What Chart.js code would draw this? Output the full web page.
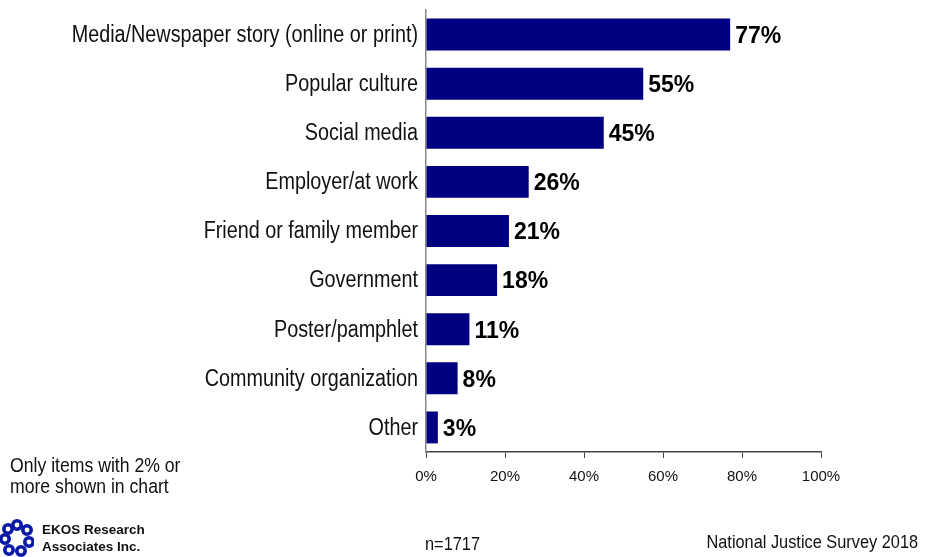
<!DOCTYPE html>
<html lang="en">
<head>
  <meta charset="UTF-8" />
  <title>Sources of information - National Justice Survey 2018</title>
  <script src="https://cdn.jsdelivr.net/npm/chart.js"></script>
  <style>
    body {
      margin: 0;
      background: #fff;
      font-family: 'Liberation Sans', Arial, sans-serif;
      color: #111;
    }

    .wrap {
      position: relative;
      width: 934px;
      height: 557px;
    }

    /* texte "narrow" : Liberation Sans comprimée horizontalement */
    .narrow {
      position: absolute;
      white-space: nowrap;
      transform: scaleX(0.86);
    }

    .note {
      left: 10px;
      top: 454px;
      font-size: 20.5px;
      line-height: 21px;
      transform-origin: left top;
    }

    .n {
      left: 425px;
      top: 533px;
      font-size: 19px;
      transform-origin: left top;
    }

    .source {
      right: 16px;
      top: 531px;
      font-size: 19px;
      transform-origin: right top;
    }

    .logo {
      position: absolute;
      left: 0;
      top: 519px;
      display: flex;
      align-items: center;
    }

    .logo span {
      font-weight: bold;
      font-size: 13.5px;
      line-height: 17px;
      margin-left: 8px;
    }
  </style>
</head>
<body>
  <div class="wrap">
    <canvas id="sourceChart" width="934" height="557"></canvas>
    <div class="narrow note">Only items with 2% or<br />more shown in chart</div>
    <div class="logo">
      <svg width="34" height="38" viewBox="0 0 34 38">
        <g fill="none" stroke="#0a1aa8" stroke-width="3.6">
          <circle cx="17" cy="6" r="4.2" />
          <circle cx="27" cy="11" r="4.2" />
          <circle cx="29" cy="23" r="4.2" />
          <circle cx="21" cy="32" r="4.2" />
          <circle cx="9" cy="31" r="4.2" />
          <circle cx="5" cy="20" r="4.2" />
          <circle cx="8" cy="10" r="4.2" />
        </g>
      </svg>
      <span>EKOS Research<br />Associates Inc.</span>
    </div>
    <div class="narrow n">n=1717</div>
    <div class="narrow source">National Justice Survey 2018</div>
  </div>

  <script>
    // Données
    const categories = [
      'Media/Newspaper story (online or print)',
      'Popular culture',
      'Social media',
      'Employer/at work',
      'Friend or family member',
      'Government',
      'Poster/pamphlet',
      'Community organization',
      'Other'
    ];
    const values = [77, 55, 45, 26, 21, 18, 11, 8, 3];
    const xTicks = [0, 20, 40, 60, 80, 100];

    // Libellés des catégories, dessinés en police comprimée
    const categoryLabels = {
      id: 'categoryLabels',
      afterDraw(chart) {
        const ctx = chart.ctx;
        const yScale = chart.scales.y;
        ctx.save();
        ctx.font = "23px 'Liberation Sans', Arial, sans-serif";
        ctx.fillStyle = '#111';
        ctx.textAlign = 'right';
        ctx.textBaseline = 'middle';
        categories.forEach((label, i) => {
          ctx.save();
          ctx.translate(yScale.right - 8, yScale.getPixelForValue(i) + 1);
          ctx.scale(0.86, 1);
          ctx.fillText(label, 0, 0);
          ctx.restore();
        });
        ctx.restore();
      }
    };

    // Étiquettes de valeur au bout des barres
    const valueLabels = {
      id: 'valueLabels',
      afterDatasetsDraw(chart) {
        const ctx = chart.ctx;
        const meta = chart.getDatasetMeta(0);
        ctx.save();
        ctx.font = "bold 23px 'Liberation Sans', Arial, sans-serif";
        ctx.fillStyle = '#000';
        ctx.textAlign = 'left';
        ctx.textBaseline = 'middle';
        meta.data.forEach((bar, i) => {
          ctx.fillText(values[i] + '%', bar.x + 5, bar.y + 2);
        });
        ctx.restore();
      }
    };

    const ctx = document.getElementById('sourceChart').getContext('2d');
    new Chart(ctx, {
      type: 'bar',
      data: {
        labels: categories,
        datasets: [{
          data: values,
          backgroundColor: '#000080',
          borderWidth: 0,
          barPercentage: 0.65,
          categoryPercentage: 1
        }]
      },
      options: {
        indexAxis: 'y',
        responsive: false,
        animation: false,
        layout: {
          padding: { top: 10, right: 113, left: 0, bottom: 0 }
        },
        plugins: {
          legend: { display: false },
          tooltip: { enabled: false }
        },
        scales: {
          x: {
            min: 0,
            max: 100,
            afterBuildTicks(scale) {
              scale.ticks = xTicks.map(v => ({ value: v }));
            },
            afterFit(scale) {
              scale.height = 105;
            },
            border: { color: '#444', width: 1.5 },
            grid: {
              drawOnChartArea: false,
              tickLength: 6,
              color: '#444'
            },
            ticks: {
              color: '#111',
              padding: 10,
              font: { family: "'Liberation Sans', Arial, sans-serif", size: 15 },
              callback: v => v + '%'
            }
          },
          y: {
            afterFit(scale) {
              scale.width = 426;
              scale.paddingTop = 0;
              scale.paddingBottom = 0;
            },
            border: { color: '#888', width: 1.5 },
            grid: { display: false, drawTicks: false },
            ticks: { display: false }
          }
        }
      },
      plugins: [categoryLabels, valueLabels]
    });
  </script>
</body>
</html>
